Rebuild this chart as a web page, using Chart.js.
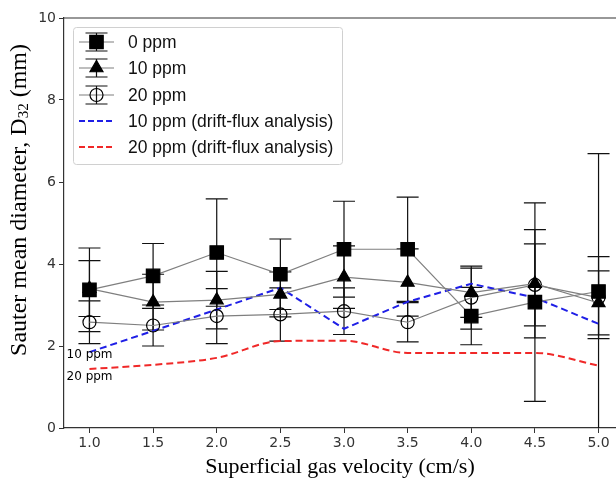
<!DOCTYPE html>
<html>
<head>
<meta charset="utf-8">
<script src="https://cdn.jsdelivr.net/npm/chart.js@4/dist/chart.umd.min.js"></script>
<style>
  html, body { margin: 0; padding: 0; background: #fff; width: 616px; height: 482px; overflow: hidden; }
  canvas { display: block; }
</style>
</head>
<body>
<canvas id="chart" width="640" height="482"></canvas>
<script>
// superficial gas velocity (cm/s)
const velocities = [1.0, 1.5, 2.0, 2.5, 3.0, 3.5, 4.0, 4.5, 5.0];
const xTicks = [1.0, 1.5, 2.0, 2.5, 3.0, 3.5, 4.0, 4.5, 5.0];
const yTicks = [0, 2, 4, 6, 8, 10];

// measured Sauter mean diameter (mm) and error bars
const d32_0ppm = [3.37, 3.71, 4.28, 3.75, 4.36, 4.36, 2.73, 3.07, 3.33];
const err_0ppm = [1.02, 0.79, 1.31, 0.86, 1.17, 1.27, 0.70, 2.42, 3.36];
const d32_10ppm = [3.40, 3.07, 3.12, 3.26, 3.68, 3.55, 3.30, 3.52, 3.05];
const err_10ppm = [0.68, 0.68, 0.70, 0.55, 0.76, 0.82, 0.60, 1.32, 0.78];
const d32_20ppm = [2.58, 2.50, 2.73, 2.77, 2.85, 2.58, 3.18, 3.49, 3.18];
const err_20ppm = [0.52, 0.50, 0.67, 0.65, 0.57, 0.48, 0.77, 1.00, 1.00];

// drift-flux analysis
const drift_10ppm = [1.85, 2.37, 2.89, 3.42, 2.42, 3.08, 3.52, 3.18, 2.54];
const drift_20ppm = [1.44, 1.54, 1.71, 2.12, 2.13, 1.83, 1.83, 1.83, 1.52];

const toPoints = (ys) => velocities.map((x, i) => ({ x: x, y: ys[i] }));

const LINE_GREY = '#7f7f7f';

const measured = (label, ys, errs, style, radius, fill) => ({
  label: label,
  data: toPoints(ys),
  errors: errs,
  borderColor: LINE_GREY,
  borderWidth: 1.2,
  pointStyle: style,
  pointRadius: radius,
  pointHoverRadius: radius,
  pointBorderColor: '#000',
  pointBackgroundColor: fill,
  pointBorderWidth: 1.2,
  tension: 0
});

const drift = (label, ys, color, smooth) => ({
  label: label,
  data: toPoints(ys),
  borderColor: color,
  borderWidth: 2,
  borderDash: [7, 4],
  pointRadius: 0,
  cubicInterpolationMode: smooth ? 'monotone' : 'default',
  tension: 0
});

// error bars drawn under the markers
const errorBars = {
  id: 'errorBars',
  beforeDatasetsDraw(chart) {
    const { ctx, chartArea, scales } = chart;
    ctx.save();
    ctx.beginPath();
    ctx.rect(chartArea.left, chartArea.top, chartArea.right - chartArea.left, chartArea.bottom - chartArea.top);
    ctx.clip();
    ctx.strokeStyle = '#111';
    ctx.lineWidth = 1.2;
    chart.data.datasets.forEach((ds, i) => {
      if (!ds.errors) return;
      const meta = chart.getDatasetMeta(i);
      meta.data.forEach((pt, j) => {
        const v = ds.data[j].y, e = ds.errors[j];
        const yTop = scales.y.getPixelForValue(v + e);
        const yBot = scales.y.getPixelForValue(v - e);
        ctx.beginPath();
        ctx.moveTo(pt.x, yTop); ctx.lineTo(pt.x, yBot);
        ctx.moveTo(pt.x - 11, yTop); ctx.lineTo(pt.x + 11, yTop);
        ctx.moveTo(pt.x - 11, yBot); ctx.lineTo(pt.x + 11, yBot);
        ctx.stroke();
      });
    });
    ctx.restore();
  }
};

const decorations = {
  id: 'decorations',
  afterDraw(chart) {
    const { ctx, chartArea, scales } = chart;
    ctx.save();

    // top spine
    ctx.strokeStyle = '#333';
    ctx.lineWidth = 1.2;
    ctx.beginPath();
    ctx.moveTo(chartArea.left, chartArea.top);
    ctx.lineTo(chartArea.right, chartArea.top);
    ctx.stroke();

    // labels next to the drift-flux curves
    ctx.fillStyle = '#000';
    ctx.font = '12px "DejaVu Sans"';
    ctx.textBaseline = 'middle';
    ctx.textAlign = 'left';
    ctx.fillText('10 ppm', scales.x.getPixelForValue(0.82), scales.y.getPixelForValue(1.79));
    ctx.fillText('20 ppm', scales.x.getPixelForValue(0.82), scales.y.getPixelForValue(1.25));

    // axis titles
    ctx.font = '22px "Liberation Serif"';
    ctx.textAlign = 'center';
    ctx.fillText('Superficial gas velocity (cm/s)', 340, 467);

    ctx.translate(20, 200);
    ctx.rotate(-Math.PI / 2);
    const a = 'Sauter mean diameter, D', sub = '32', b = ' (mm)';
    ctx.font = '24px "Liberation Serif"';
    const wa = ctx.measureText(a).width, wb = ctx.measureText(b).width;
    ctx.font = '15px "Liberation Serif"';
    const ws = ctx.measureText(sub).width;
    const x0 = -(wa + ws + wb) / 2;
    ctx.textAlign = 'left';
    ctx.font = '24px "Liberation Serif"';
    ctx.fillText(a, x0, 0);
    ctx.font = '15px "Liberation Serif"';
    ctx.fillText(sub, x0 + wa, 4);
    ctx.font = '24px "Liberation Serif"';
    ctx.fillText(b, x0 + wa + ws, 0);
    ctx.restore();

    // legend
    ctx.save();
    const bx = 73, by = 27, bw = 269, bh = 137;
    ctx.fillStyle = 'rgba(255,255,255,0.85)';
    ctx.strokeStyle = '#d0d0d0';
    ctx.lineWidth = 1;
    ctx.beginPath();
    ctx.roundRect(bx + 0.5, by + 0.5, bw, bh, 3);
    ctx.fill();
    ctx.stroke();
    ctx.font = '17.5px "Liberation Sans"';
    ctx.textBaseline = 'middle';
    ctx.textAlign = 'left';
    const rowY = [42, 68, 95, 121, 147];
    chart.data.datasets.forEach((ds, i) => {
      const y = rowY[i];
      const cx = 96.5;
      if (ds.errors) {
        ctx.strokeStyle = LINE_GREY;
        ctx.lineWidth = 1.2;
        ctx.setLineDash([]);
        ctx.beginPath(); ctx.moveTo(79, y); ctx.lineTo(114, y); ctx.stroke();
        ctx.strokeStyle = '#111';
        ctx.beginPath();
        ctx.moveTo(cx, y - 9); ctx.lineTo(cx, y + 9);
        ctx.moveTo(cx - 11, y - 9); ctx.lineTo(cx + 11, y - 9);
        ctx.moveTo(cx - 11, y + 9); ctx.lineTo(cx + 11, y + 9);
        ctx.stroke();
        ctx.fillStyle = ds.pointBackgroundColor;
        ctx.strokeStyle = '#000';
        ctx.lineWidth = 1.2;
        Chart.helpers.drawPoint(ctx, { pointStyle: ds.pointStyle, radius: ds.pointRadius, borderWidth: 1.2, rotation: 0 }, cx, y);
      } else {
        ctx.strokeStyle = ds.borderColor;
        ctx.lineWidth = 2;
        ctx.setLineDash([6, 3]);
        ctx.beginPath(); ctx.moveTo(79, y); ctx.lineTo(114, y); ctx.stroke();
        ctx.setLineDash([]);
      }
      ctx.fillStyle = '#111';
      ctx.fillText(ds.label, 128, y + 1);
    });
    ctx.restore();
  }
};

new Chart(document.getElementById('chart'), {
  type: 'line',
  data: {
    datasets: [
      measured('0 ppm', d32_0ppm, err_0ppm, 'rect', 9.5, '#000'),
      measured('10 ppm', d32_10ppm, err_10ppm, 'triangle', 7.5, '#000'),
      measured('20 ppm', d32_20ppm, err_20ppm, 'circle', 6.5, 'rgba(0,0,0,0)'),
      drift('10 ppm (drift-flux analysis)', drift_10ppm, '#1f1fe6', false),
      drift('20 ppm (drift-flux analysis)', drift_20ppm, '#f02828', true)
    ]
  },
  options: {
    responsive: false,
    animation: false,
    layout: { padding: { top: 18, right: 16, left: 0, bottom: 0 } },
    plugins: { legend: { display: false }, tooltip: { enabled: false } },
    scales: {
      x: {
        type: 'linear',
        min: 0.8,
        max: 5.2,
        afterBuildTicks: (scale) => { scale.ticks = xTicks.map(v => ({ value: v })); },
        afterFit: (scale) => { scale.height = 54; },
        ticks: {
          callback: (v) => Number(v).toFixed(1),
          font: { family: 'DejaVu Sans', size: 14 },
          color: '#333',
          padding: 2,
          maxRotation: 0
        },
        grid: { drawOnChartArea: false, drawTicks: true, tickLength: 5, color: '#333', lineWidth: 1 },
        border: { display: true, color: '#333', width: 1.2 }
      },
      y: {
        min: 0,
        max: 10,
        afterBuildTicks: (scale) => { scale.ticks = yTicks.map(v => ({ value: v })); },
        afterFit: (scale) => { scale.width = 64; },
        ticks: {
          font: { family: 'DejaVu Sans', size: 14 },
          color: '#333',
          padding: 3
        },
        grid: { drawOnChartArea: false, drawTicks: true, tickLength: 5, color: '#333', lineWidth: 1 },
        border: { display: true, color: '#333', width: 1.2 }
      }
    }
  },
  plugins: [errorBars, decorations]
});
</script>
</body>
</html>
